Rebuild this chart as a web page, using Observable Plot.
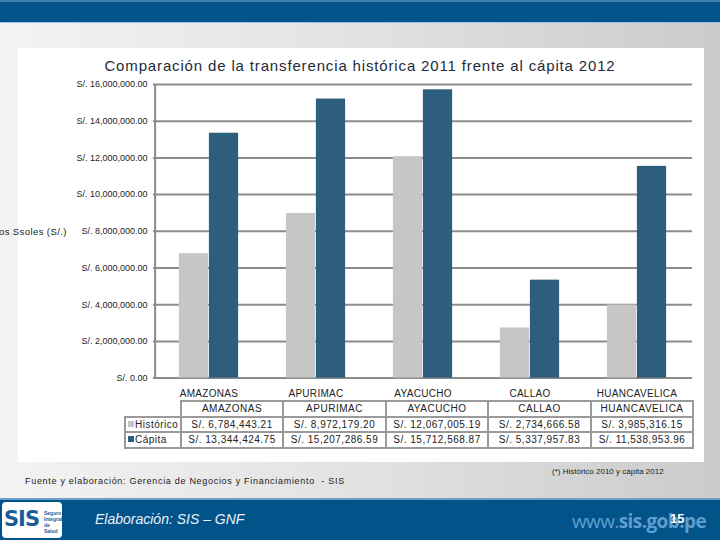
<!DOCTYPE html>
<html>
<head>
<meta charset="utf-8">
<script src="https://cdn.jsdelivr.net/npm/d3@7"></script>
<script src="https://cdn.jsdelivr.net/npm/@observablehq/plot@0.6"></script>
<style>
  html, body { margin: 0; padding: 0; }
  #page { position: relative; width: 720px; height: 540px; overflow: hidden;
    font-family: "Liberation Sans", Arial, sans-serif;
    background: linear-gradient(to right, #f3f3f3 0%, #e2e2e2 50%, #cbcbcb 100%); }
  #topband { position: absolute; left: 0; top: 0; width: 720px; height: 23px;
    background: #02548a; border-top: 2px solid #3c7db0; box-sizing: border-box;
    border-bottom: 1px solid #9cc4e0; }
  #panel { position: absolute; left: 18px; top: 48px; width: 686px; height: 414px; background: #ffffff; }
  #title { position: absolute; left: 0; width: 720px; top: 57px; text-align: center;
    font-size: 15px; color: #1d2b3a; letter-spacing: 0.85px; }
  #chart { position: absolute; left: 0; top: 50px; }
  #ylabel { position: absolute; left: -1px; top: 226px; font-size: 9.5px; color: #222; letter-spacing: 0.4px; white-space: nowrap; }
  #table { position: absolute; left: 124px; top: 400px; border-collapse: collapse;
    font-size: 10px; color: #222; letter-spacing: 0.5px; }
  #table td { border: 2px solid #9a9a9a; text-align: center; padding: 0; height: 13.5px; white-space: nowrap; overflow: hidden; }
  #table td.empty { border: none; }
  #table td.leg { text-align: left; padding-left: 2px; }
  .sw { display: inline-block; width: 6px; height: 6px; margin-right: 1px; vertical-align: 1px; }
  #note { position: absolute; left: 552px; top: 467px; font-size: 8px; color: #222; }
  #source { position: absolute; left: 25px; top: 476px; font-size: 9px; color: #222; letter-spacing: 0.7px; }
  #footband { position: absolute; left: 0; top: 498px; width: 720px; height: 42px;
    background: #02538a; border-top: 2px solid #6e9fc7; box-sizing: border-box; }
  #logo { position: absolute; left: 2px; top: 502px; width: 60px; height: 36px; background: #fff;
    border-radius: 4px; overflow: hidden; }
  #logo .big { position: absolute; left: 2px; top: 5px; font-size: 21px; font-weight: bold; color: #1a5c98;
    font-family: "DejaVu Sans", sans-serif; letter-spacing: -1px; }
  #logo .small { position: absolute; left: 42px; top: 8px; font-size: 5px; line-height: 6px; color: #1a5c98; font-weight: bold; }
  #elab { position: absolute; left: 95px; top: 511px; font-size: 14px; font-style: italic; color: #e8f0f8; }
  #www { position: absolute; left: 572px; top: 508px; font-size: 19px; color: #5e9fcf;
    font-family: "Open Sans", sans-serif; letter-spacing: -0.6px; white-space: nowrap; }
  #www b { font-weight: bold; }
  #pagenum { position: absolute; left: 670px; top: 511px; font-size: 13px; font-weight: bold; color: #fff; }
</style>
</head>
<body>
<div id="page">
  <div id="topband"></div>
  <div id="panel"></div>
  <div id="title">Comparación de la transferencia histórica 2011 frente al cápita 2012</div>
  <div id="chart"></div>
  <div id="ylabel">os Ssoles (S/.)</div>
  <table id="table"></table>
  <div id="note">(*) Histórico 2010 y cápita 2012</div>
  <div id="source">Fuente y elaboración: Gerencia de Negocios y Financiamiento &nbsp;- SIS</div>
  <div id="footband"></div>
  <div id="logo"><span class="big">SIS</span><span class="small">Seguro<br>Integral<br>de Salud</span></div>
  <div id="elab">Elaboración: SIS – GNF</div>
  <div id="www">www.<b>sis.gob.pe</b></div>
  <div id="pagenum">15</div>
</div>
<script>
// ---- data ----
const categories = ["AMAZONAS", "APURIMAC", "AYACUCHO", "CALLAO", "HUANCAVELICA"];
const historico = [6784443.21, 8972179.20, 12067005.19, 2734666.58, 3985316.15];
const capita = [13344424.75, 15207286.59, 15712568.87, 5337957.83, 11538953.96];
const seriesNames = ["Histórico", "Cápita"];
const yTicks = [0, 2000000, 4000000, 6000000, 8000000, 10000000, 12000000, 14000000, 16000000];

const grayC = "#c6c6c6";
const blueC = "#2e5e7e";
const gridC = "#8c8c8c";

const rowsH = categories.map((c, i) => ({region: c, value: historico[i]}));
const rowsC = categories.map((c, i) => ({region: c, value: capita[i]}));

const W = 720, H = 410, mL = 153, mR = 28, mT = 34, mB = 82.4;
const step = (W - mL - mR) / categories.length;
const barW = 30;
const outer = step / 2 - barW;

const moneyFmt = d => "S/. " + d3.format(",.2f")(d);

const chart = Plot.plot({
  width: W, height: H,
  marginLeft: mL, marginRight: mR, marginTop: mT, marginBottom: mB,
  style: {background: "transparent", fontFamily: "Liberation Sans, Arial, sans-serif", color: "#222"},
  x: {domain: categories, padding: 0, label: null, tickSize: 0, tickPadding: 12},
  y: {domain: [0, 16000000], ticks: yTicks, tickFormat: moneyFmt, tickSize: 0, tickPadding: 6, label: null},
  marks: [
    Plot.ruleY(yTicks, {stroke: gridC, strokeWidth: 2}),
    Plot.barY(rowsH, {x: "region", y: "value", fill: grayC, insetLeft: outer, insetRight: step / 2}),
    Plot.barY(rowsC, {x: "region", y: "value", fill: blueC, insetLeft: step / 2, insetRight: outer}),
    Plot.ruleX([categories[0]], {y1: 0, y2: 16000000, dx: -step / 2, stroke: gridC, strokeWidth: 2})
  ]
});
chart.style.fontSize = "9px";
chart.querySelectorAll("g[aria-label='x-axis'] text, g[aria-label='x-axis tick label'] text").forEach(t => {
  t.style.fontSize = "10px"; t.style.letterSpacing = "0.3px";
});
document.getElementById("chart").appendChild(chart);

// ---- data table ----
const table = document.getElementById("table");
const colW = [56, 102, 103, 102, 103, 102];
let html = "<colgroup>" + colW.map(w => `<col style="width:${w}px">`).join("") + "</colgroup>";
html += "<tr><td class='empty'></td>" + categories.map(c => `<td>${c}</td>`).join("") + "</tr>";
const seriesVals = [historico, capita];
const seriesCols = [grayC, blueC];
seriesNames.forEach((s, k) => {
  html += `<tr><td class='leg'><span class='sw' style='background:${seriesCols[k]}'></span>${s}</td>` +
    seriesVals[k].map(v => `<td>${moneyFmt(v)}</td>`).join("") + "</tr>";
});
table.innerHTML = html;
table.style.width = colW.reduce((a, b) => a + b, 0) + "px";
table.style.tableLayout = "fixed";
</script>
</body>
</html>
